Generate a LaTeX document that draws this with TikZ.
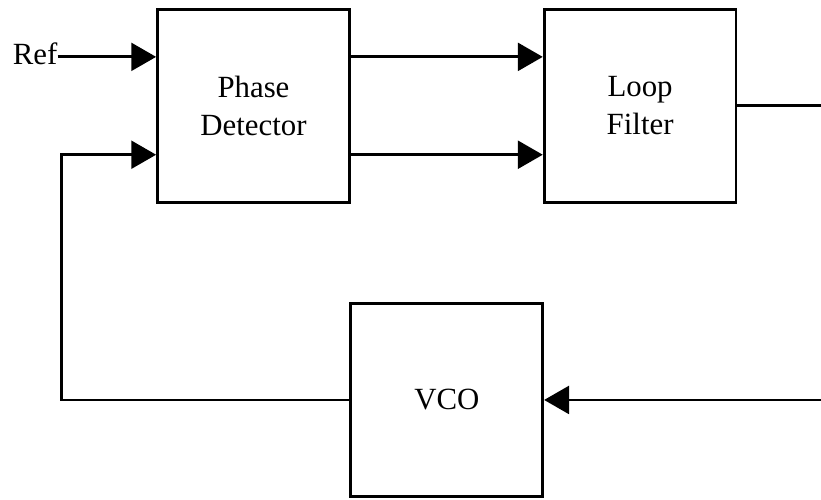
\documentclass[tikz,border=0pt]{standalone}
\usepackage{fontspec}
\setmainfont{Liberation Serif}
\usetikzlibrary{arrows.meta,positioning,calc}

\begin{document}
\begin{tikzpicture}
  [
    every node/.style={font=\fontsize{15.5pt}{19pt}\selectfont},
    block/.style={rectangle,draw,line width=1.4pt,inner sep=0pt,minimum width=96.5pt,minimum height=97pt,align=center},
    wire/.style={line width=1.4pt},
    feed/.style={wire,-{Triangle[length=12.5pt,width=14pt]}}
  ]
  \node[block] (detector) {Phase\\Detector};
  \node[block] (filter) [right = 96.5pt of detector] {Loop\\Filter};
  \coordinate (gap) at ($(detector.south east)!0.5!(filter.south west)$);
  \node[block] (vco) [below = 49.5pt of gap] {VCO};

  \coordinate (ref in) at ($(detector.north west)!0.25!(detector.south west)$);
  \coordinate (vco in) at ($(detector.north west)!0.75!(detector.south west)$);
  \coordinate (up out) at ($(detector.north east)!0.25!(detector.south east)$);
  \coordinate (dn out) at ($(detector.north east)!0.75!(detector.south east)$);
  \coordinate (up in) at ($(filter.north west)!0.25!(filter.south west)$);
  \coordinate (dn in) at ($(filter.north west)!0.75!(filter.south west)$);
  \node (ref) [left = 49.5pt of ref in, inner sep=0pt, yshift=1.5pt] {Ref};
  \coordinate (corner) at ([xshift=-47.5pt] vco in);
  \coordinate (out) at ([xshift=42pt] filter.east);
  \coordinate (back) at (out |- vco.east);

  \draw[feed] (ref.east |- ref in) -- (ref in);
  \draw[feed] (up out) -- (up in);
  \draw[feed] (dn out) -- (dn in);
  \draw[feed] (vco.west) -| (corner) -- (vco in);
  \draw[wire] (filter.east) -- (out);
  \draw[feed] (back) -- (vco.east);

  % page size as in the scan
  \coordinate (page tl) at ([xshift=-78.5pt,yshift=4pt] detector.north west);
  \coordinate (page br) at (out |- vco.south);
  \pgfresetboundingbox
  \path[use as bounding box] (page tl) rectangle ([yshift=-1pt] page br);
\end{tikzpicture}
\end{document}
